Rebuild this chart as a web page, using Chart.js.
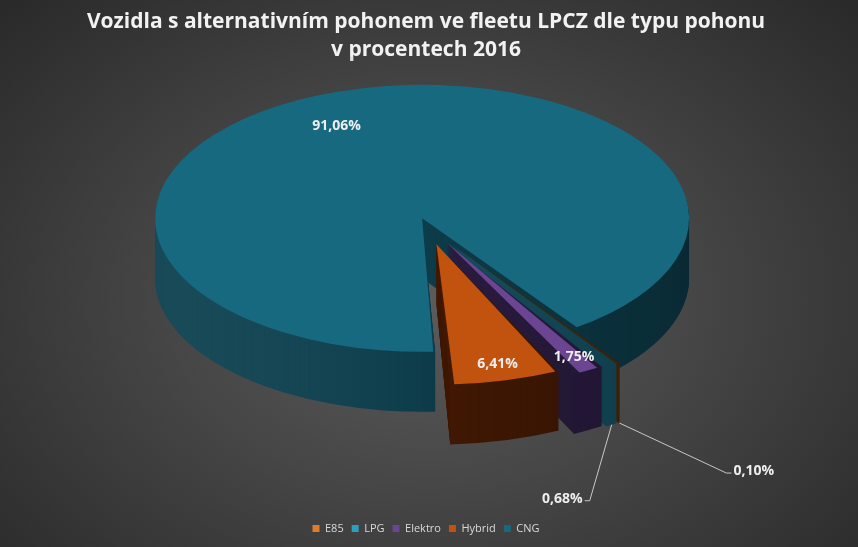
<!DOCTYPE html>
<html lang="cs">
<head>
    <meta charset="UTF-8">
    <title>Vozidla s alternativním pohonem 2016</title>
    <script src="https://cdn.jsdelivr.net/npm/chart.js"></script>
    <style>
        html, body {
            margin: 0;
            padding: 0;
        }

        body {
            width: 858px;
            height: 547px;
            overflow: hidden;
            background: radial-gradient(ellipse 68% 78% at 50% 55%, #5b5b5b 0%, #464646 45%, #2a2a2a 100%);
        }

        .wrap {
            position: relative;
            width: 858px;
            height: 547px;
        }
    </style>
</head>
<body>
    <div class="wrap"><canvas id="pie"></canvas></div>
    <script>
        const categories = ['E85', 'LPG', 'Elektro', 'Hybrid', 'CNG'];
        const shares = [0.10, 0.68, 1.75, 6.41, 91.06];
        const explode = [168, 168, 168, 168, 48];
        const topColors = ['#e07b28', '#2b9fbf', '#6b4592', '#c2530f', '#176980'];
        const sideColors = ['#5a2c06', '#17596c', '#2f1f48', '#4a1c04', '#0f4352'];

        const TILT = 0.5;    // vertical squash of the pie
        const DEPTH = 60;    // thickness of the pie on screen, px
        const PIE_Y = 224;   // screen y of the pie centre
        const fmt = v => v.toFixed(2).replace('.', ',') + '%';

        // where labels sit: inside ones as [share of radius, angle shift in degrees],
        // outside ones get a leader line
        const insideAt = { 2: [0.9, 0], 3: [0.88, 0], 4: [0.76, -6] };
        const leaders = { 0: { dx: 107, dy: 50, side: 1 }, 1: { dx: -22, dy: 76, side: -1 } };

        function geom(arc) {
            const off = (arc.options.offset || 0) / 4;
            const mid = (arc.startAngle + arc.endAngle) / 2;
            const circ = arc.endAngle - arc.startAngle;
            const fix = 1 - Math.sin(Math.min(Math.PI, circ));
            return {
                x: arc.x + Math.cos(mid) * off,
                y: arc.y + Math.sin(mid) * off,
                r: arc.outerRadius + off * fix,
                mid: mid
            };
        }

        function sectorPath(ctx, arc, dy) {
            const g = geom(arc);
            ctx.beginPath();
            ctx.moveTo(g.x, g.y + dy);
            ctx.arc(g.x, g.y + dy, g.r, arc.startAngle, arc.endAngle);
            ctx.closePath();
        }

        function tilt(ctx, cy) {
            ctx.translate(0, PIE_Y);
            ctx.scale(1, TILT);
            ctx.translate(0, -cy);
        }

        const pie3d = {
            id: 'pie3d',
            beforeDatasetsDraw(chart) {
                const ctx = chart.ctx;
                const arcs = chart.getDatasetMeta(0).data;
                const cy = arcs[0].y;

                ctx.save();
                tilt(ctx, cy);
                // back to front: CNG, then the small slices from right to left
                [4, 0, 1, 2, 3].forEach(i => {
                    ctx.fillStyle = sideColors[i];
                    for (let d = DEPTH; d > 0; d--) {
                        sectorPath(ctx, arcs[i], d / TILT);
                        ctx.fill();
                    }
                });
                ctx.restore();

                // light from the left on the side walls
                const r = arcs[4].outerRadius + 40;
                const cx = arcs[4].x;
                ctx.save();
                ctx.globalCompositeOperation = 'source-atop';
                const gr = ctx.createLinearGradient(cx - r, 0, cx + r, 0);
                gr.addColorStop(0, 'rgba(255,255,255,0.04)');
                gr.addColorStop(0.5, 'rgba(0,0,0,0.10)');
                gr.addColorStop(1, 'rgba(0,0,0,0.40)');
                ctx.fillStyle = gr;
                ctx.fillRect(cx - r, PIE_Y - r * TILT - 20, 2 * r, r * TILT * 2 + DEPTH + 80);
                ctx.restore();

                ctx.save();
                tilt(ctx, cy);
            },
            afterDatasetsDraw(chart) {
                const ctx = chart.ctx;
                ctx.restore();
                const arcs = chart.getDatasetMeta(0).data;
                const cy = arcs[0].y;
                const sy = y => PIE_Y + (y - cy) * TILT;

                ctx.save();
                ctx.font = 'bold 14px "Open Sans"';
                ctx.fillStyle = '#eeeeee';
                ctx.textBaseline = 'middle';
                arcs.forEach((arc, i) => {
                    const g = geom(arc);
                    const text = fmt(shares[i]);
                    if (insideAt[i]) {
                        const rr = g.r * insideAt[i][0];
                        const a = g.mid + insideAt[i][1] * Math.PI / 180;
                        ctx.textAlign = 'center';
                        ctx.fillText(text, g.x + Math.cos(a) * rr, sy(g.y + Math.sin(a) * rr));
                    } else {
                        const L = leaders[i];
                        const ax = g.x + Math.cos(g.mid) * g.r;
                        const ay = sy(g.y + Math.sin(g.mid) * g.r) + DEPTH;
                        const ex = ax + L.dx, ey = ay + L.dy;
                        ctx.strokeStyle = '#c8c8c8';
                        ctx.lineWidth = 1;
                        ctx.beginPath();
                        ctx.moveTo(ax, ay);
                        ctx.lineTo(ex, ey);
                        ctx.lineTo(ex + 5 * L.side, ey);
                        ctx.stroke();
                        ctx.textAlign = L.side > 0 ? 'left' : 'right';
                        ctx.fillText(text, ex + 7 * L.side, ey - 2);
                    }
                });
                ctx.restore();
            }
        };

        new Chart(document.getElementById('pie'), {
            type: 'pie',
            data: {
                labels: categories,
                datasets: [{
                    data: shares,
                    backgroundColor: topColors,
                    borderWidth: 0,
                    offset: explode,
                    clip: false
                }]
            },
            options: {
                responsive: true,
                maintainAspectRatio: false,
                animation: false,
                events: [],
                rotation: 145,
                radius: 255,
                layout: { padding: { right: 6, bottom: 3 } },
                plugins: {
                    title: {
                        display: true,
                        text: ['Vozidla s alternativním pohonem ve fleetu LPCZ dle typu pohonu', 'v procentech 2016'],
                        color: '#f2f2f2',
                        font: { family: 'Open Sans', size: 21, weight: 'bold', lineHeight: 1.33 },
                        padding: { top: 8, bottom: 10 }
                    },
                    legend: {
                        position: 'bottom',
                        labels: {
                            color: '#d9d9d9',
                            font: { family: 'Open Sans', size: 11 },
                            boxWidth: 7,
                            boxHeight: 7,
                            padding: 8
                        }
                    },
                    tooltip: { enabled: false }
                }
            },
            plugins: [pie3d]
        });
    </script>
</body>
</html>
